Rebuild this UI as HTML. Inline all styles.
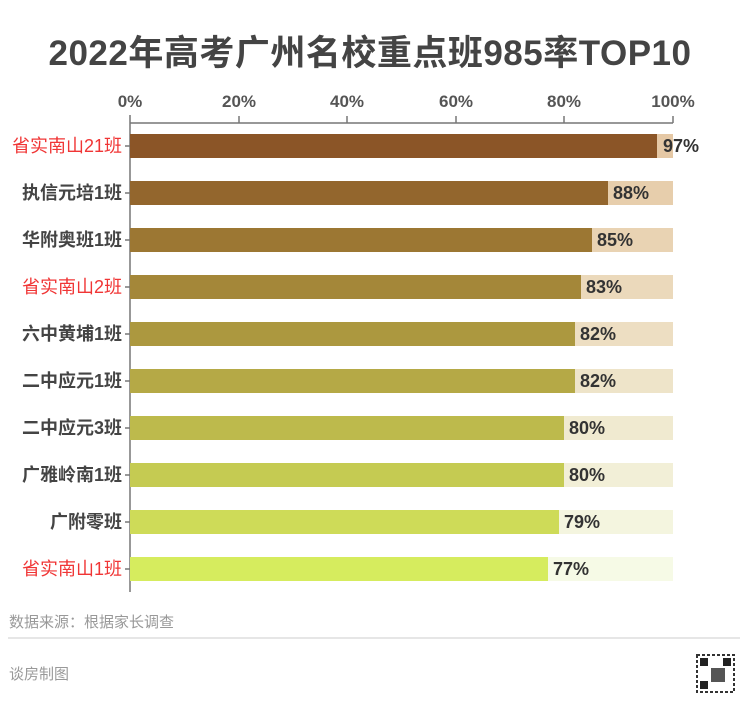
<!DOCTYPE html><html><head><meta charset="utf-8"><style>
body{margin:0;background:#fff;width:740px;height:717px;position:relative;overflow:hidden;font-family:"Liberation Sans","Noto Sans CJK SC",sans-serif}
.a{position:absolute}
.t{left:0;width:740px;text-align:center;top:25px;font-size:35px;font-weight:bold;color:#444;letter-spacing:0.5px}
.tk{top:92px;font-size:17px;font-weight:bold;color:#555;width:60px;margin-left:-30px;text-align:center}
.lb{right:618px;font-size:18px;font-weight:bold;color:#444;white-space:nowrap;line-height:24px}
.red{color:#f03535;font-weight:normal}
.v{font-size:18px;font-weight:bold;color:#333;line-height:24px}
</style></head><body>
<div class="a t">2022年高考广州名校重点班985率TOP10</div>
<div class="a tk" style="left:130px">0%</div>
<div class="a tk" style="left:239px">20%</div>
<div class="a tk" style="left:347px">40%</div>
<div class="a tk" style="left:456px">60%</div>
<div class="a tk" style="left:564px">80%</div>
<div class="a tk" style="left:673px">100%</div>
<svg class="a" style="left:0;top:0" width="740" height="717">
<g stroke="#777" stroke-width="1.5" fill="none">
<line x1="130" y1="123" x2="673" y2="123"/>
<line x1="130" y1="115" x2="130" y2="592"/>
<line x1="239" y1="116" x2="239" y2="123"/><line x1="347" y1="116" x2="347" y2="123"/><line x1="456" y1="116" x2="456" y2="123"/><line x1="564" y1="116" x2="564" y2="123"/><line x1="673" y1="116" x2="673" y2="123"/>
</g>
<g>
<rect x="130" y="134" width="543" height="24" fill="rgb(229,200,165)"/><rect x="130" y="134" width="527" height="24" fill="rgb(139,85,39)"/>
<rect x="130" y="181" width="543" height="24" fill="rgb(231,206,172)"/><rect x="130" y="181" width="478" height="24" fill="rgb(147,102,45)"/>
<rect x="130" y="228" width="543" height="24" fill="rgb(233,211,179)"/><rect x="130" y="228" width="462" height="24" fill="rgb(156,119,51)"/>
<rect x="130" y="275" width="543" height="24" fill="rgb(235,217,187)"/><rect x="130" y="275" width="451" height="24" fill="rgb(164,135,57)"/>
<rect x="130" y="322" width="543" height="24" fill="rgb(237,222,194)"/><rect x="130" y="322" width="445" height="24" fill="rgb(172,152,63)"/>
<rect x="130" y="369" width="543" height="24" fill="rgb(238,228,201)"/><rect x="130" y="369" width="445" height="24" fill="rgb(181,169,70)"/>
<rect x="130" y="416" width="543" height="24" fill="rgb(240,234,208)"/><rect x="130" y="416" width="434" height="24" fill="rgb(189,186,76)"/>
<rect x="130" y="463" width="543" height="24" fill="rgb(242,239,215)"/><rect x="130" y="463" width="434" height="24" fill="rgb(197,203,82)"/>
<rect x="130" y="510" width="543" height="24" fill="rgb(244,245,223)"/><rect x="130" y="510" width="429" height="24" fill="rgb(206,219,88)"/>
<rect x="130" y="557" width="543" height="24" fill="rgb(246,250,230)"/><rect x="130" y="557" width="418" height="24" fill="rgb(214,236,94)"/>
</g>
<g stroke="#777" stroke-width="1.5">
<line x1="125" y1="146" x2="130" y2="146"/><line x1="125" y1="193" x2="130" y2="193"/><line x1="125" y1="240" x2="130" y2="240"/><line x1="125" y1="287" x2="130" y2="287"/><line x1="125" y1="334" x2="130" y2="334"/><line x1="125" y1="381" x2="130" y2="381"/><line x1="125" y1="428" x2="130" y2="428"/><line x1="125" y1="475" x2="130" y2="475"/><line x1="125" y1="522" x2="130" y2="522"/><line x1="125" y1="569" x2="130" y2="569"/>
</g>
<line x1="8" y1="638" x2="740" y2="638" stroke="#ddd" stroke-width="1.5"/>
<rect x="697" y="655" width="37" height="37" fill="#fff" stroke="#333" stroke-width="2" stroke-dasharray="3 2"/>
<rect x="700" y="658" width="8" height="8" fill="#222"/><rect x="723" y="658" width="8" height="8" fill="#222"/><rect x="700" y="681" width="8" height="8" fill="#222"/><rect x="711" y="668" width="14" height="14" fill="#555"/>
</svg>
<div class="a lb red" style="top:134px">省实南山21班</div>
<div class="a lb" style="top:181px">执信元培1班</div>
<div class="a lb" style="top:228px">华附奥班1班</div>
<div class="a lb red" style="top:275px">省实南山2班</div>
<div class="a lb" style="top:322px">六中黄埔1班</div>
<div class="a lb" style="top:369px">二中应元1班</div>
<div class="a lb" style="top:416px">二中应元3班</div>
<div class="a lb" style="top:463px">广雅岭南1班</div>
<div class="a lb" style="top:510px">广附零班</div>
<div class="a lb red" style="top:557px">省实南山1班</div>
<div class="a v" style="left:663px;top:134px">97%</div>
<div class="a v" style="left:613px;top:181px">88%</div>
<div class="a v" style="left:597px;top:228px">85%</div>
<div class="a v" style="left:586px;top:275px">83%</div>
<div class="a v" style="left:580px;top:322px">82%</div>
<div class="a v" style="left:580px;top:369px">82%</div>
<div class="a v" style="left:569px;top:416px">80%</div>
<div class="a v" style="left:569px;top:463px">80%</div>
<div class="a v" style="left:564px;top:510px">79%</div>
<div class="a v" style="left:553px;top:557px">77%</div>
<div class="a" style="left:9px;top:611px;font-size:15px;color:#999">数据来源：根据家长调查</div>
<div class="a" style="left:9px;top:663px;font-size:15px;color:#999">谈房制图</div>
</body></html>
